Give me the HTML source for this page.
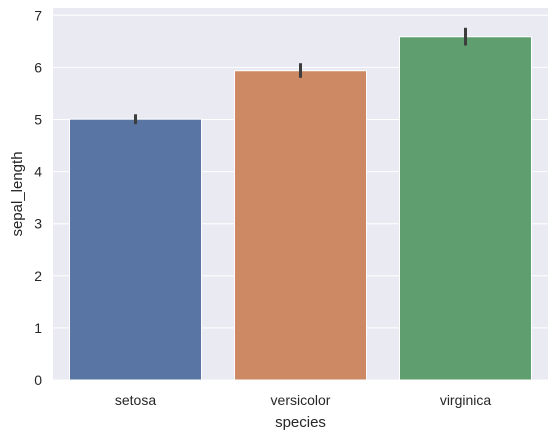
<!DOCTYPE html>
<html><head><meta charset="utf-8"><style>
body{margin:0;background:#fff;}
svg{display:block;font-family:"Liberation Sans","DejaVu Sans",sans-serif;}
</style></head><body>
<svg id="chart" width="558" height="438"></svg>
<script>
const categories=["setosa","versicolor","virginica"];
const values=[5.006,5.936,6.588];
const ciLow=[4.91,5.80,6.42];
const ciHigh=[5.10,6.08,6.76];
const yTicks=[0,1,2,3,4,5,6,7];
const colors=["#5975a4","#cc8963","#5f9e6e"];
const NS="http://www.w3.org/2000/svg";
const svg=document.getElementById('chart');
const L=53,R=548,T=8,B=380,yMax=7.14;
const y=v=>B-(v/yMax)*(B-T);
const step=(R-L)/categories.length;
const xc=i=>L+step*(i+0.5);
function mk(tag,attrs,parent){const e=document.createElementNS(NS,tag);for(const k in attrs)e.setAttribute(k,attrs[k]);(parent||svg).appendChild(e);return e;}
const bg=mk('rect',{x:L,y:T,width:R-L,height:B-T,fill:'#eaeaf2'});


yTicks.forEach(t=>{
 const g=mk('line',{x1:L,x2:R,y1:y(t),y2:y(t),stroke:'#fff','stroke-width':1});
 
 
 const tx=mk('text',{x:L-11,y:y(t)+5,'text-anchor':'end','font-size':14,fill:'#262626'});
 tx.textContent=t;
 
 
});
categories.forEach((c,i)=>{
 const w=step*0.8;
 const b=mk('rect',{x:xc(i)-w/2,y:y(values[i]),width:w,height:B-y(values[i]),fill:colors[i],stroke:'#fff','stroke-width':1});
 
 
 const e=mk('line',{x1:xc(i),x2:xc(i),y1:y(ciLow[i]),y2:y(ciHigh[i]),stroke:'#3d3d3d','stroke-width':3});
 
 
 const tx=mk('text',{x:xc(i),y:B+25,'text-anchor':'middle','font-size':14,fill:'#262626'});
 tx.textContent=c;
 
 
});
const xt=mk('text',{x:(L+R)/2,y:427,'text-anchor':'middle','font-size':15,fill:'#262626'});
xt.textContent='species';


const yt=mk('text',{x:0,y:0,'text-anchor':'middle','font-size':15,fill:'#262626',transform:`translate(22,${(T+B)/2}) rotate(-90)`});
yt.textContent='sepal_length';


</script>
</body></html>
